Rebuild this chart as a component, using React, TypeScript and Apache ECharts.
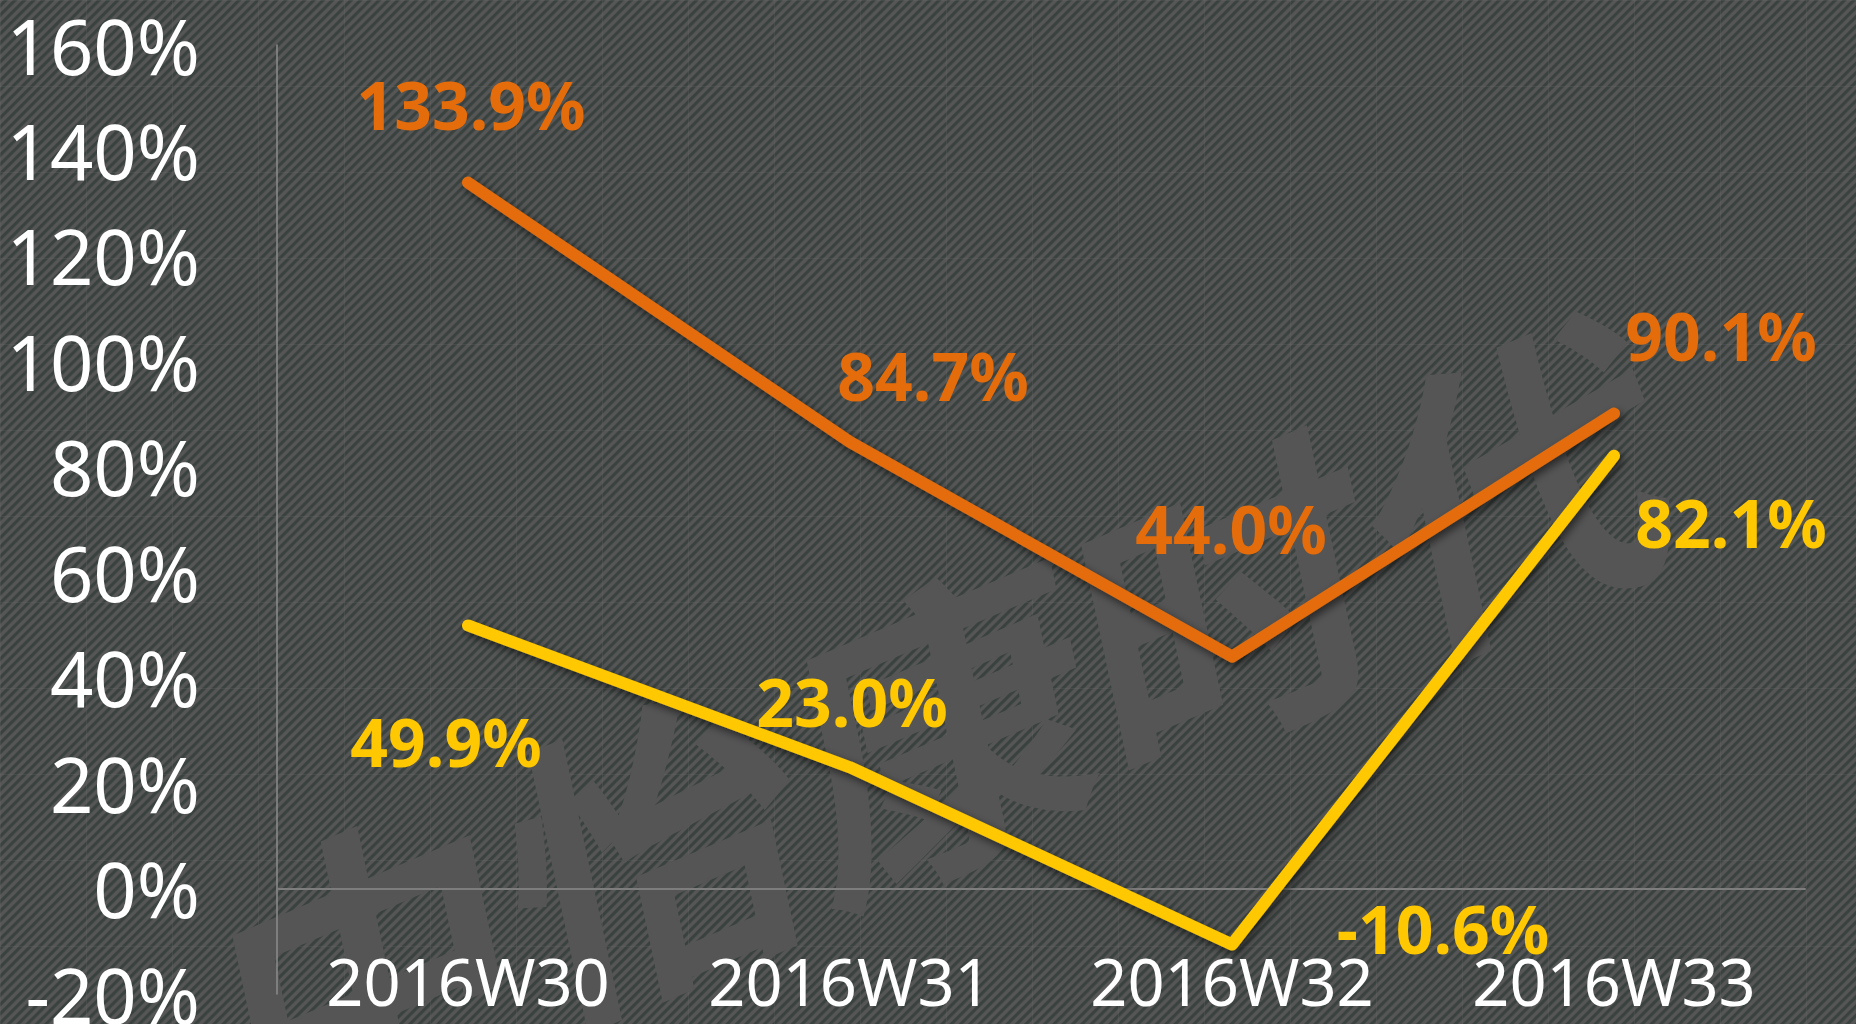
import React, { useEffect, useRef } from "react";
import * as echarts from "echarts";

const categories = ["2016W30", "2016W31", "2016W32", "2016W33"];
const orangeValues = [133.9, 84.7, 44.0, 90.1];
const yellowValues = [49.9, 23.0, -10.6, 82.1];
const yMin = -20;
const yMax = 160;
const yInterval = 20;
const watermarkText = "中怡康时代";

// label placement (layout only)
const orangeLabelOffsets = [[3, -79], [83, -67], [-1, -129], [107, -79]];
const yellowLabelOffsets = [[-22, 116], [2, -66], [211, -16], [117, 66]];

const ORANGE = "#E46C0A";
const YELLOW = "#FFC800";

function buildData(values: number[], offsets: number[][]) {
  return values.map((v, i) => ({ value: v, label: { offset: offsets[i] } }));
}

export default function App() {
  const ref = useRef<HTMLDivElement>(null);
  useEffect(() => {
    document.body.style.margin = "0";
    const chart = echarts.init(ref.current!, undefined, { renderer: "svg" });
    const labelCommon = {
      show: true,
      position: "inside",
      fontFamily: "Noto Sans",
      fontWeight: "bold",
      fontSize: 66,
      formatter: (p: any) => Number(p.value).toFixed(1) + "%",
    };
    const lineShadow = {
      shadowColor: "rgba(0,0,0,0.55)",
      shadowBlur: 8,
      shadowOffsetX: 3,
      shadowOffsetY: 4,
    };
    chart.setOption({
      animation: false,
      backgroundColor: "transparent",
      grid: {
        left: 277,
        right: 51,
        top: 45,
        bottom: 30,
        containLabel: false,
        outerBoundsMode: "none",
      },
      graphic: [
        {
          type: "text",
          x: 940,
          y: 714,
          rotation: (12 * Math.PI) / 180,
          skewY: 0.192,
          z: -10,
          silent: true,
          style: {
            text: watermarkText,
            fontFamily: "Noto Sans CJK SC",
            fontWeight: "bold",
            fontSize: 306,
            fill: "#555555",
            align: "center",
            verticalAlign: "middle",
          },
        },
      ],
      xAxis: {
        type: "category",
        data: categories,
        boundaryGap: true,
        z: 3,
        axisLine: { show: true, onZero: true, lineStyle: { color: "#7d7d7d", width: 2 } },
        axisTick: { show: false },
        splitLine: { show: false },
        axisLabel: {
          color: "#ffffff",
          fontFamily: "Noto Sans",
          fontSize: 65,
          margin: -46,
        },
      },
      yAxis: {
        type: "value",
        min: yMin,
        max: yMax,
        interval: yInterval,
        z: 3,
        axisLine: { show: true, lineStyle: { color: "#8c8c8c", width: 1.5 } },
        axisTick: { show: false },
        splitLine: { show: false },
        axisLabel: {
          color: "#ffffff",
          fontFamily: "Noto Sans",
          fontSize: 76,
          margin: 77,
          formatter: "{value}%",
        },
      },
      series: [
        {
          type: "line",
          data: buildData(orangeValues, orangeLabelOffsets),
          symbol: "circle",
          symbolSize: 1,
          itemStyle: { color: ORANGE },
          lineStyle: { color: ORANGE, width: 12, cap: "round", join: "round", ...lineShadow },
          label: { ...labelCommon, color: ORANGE },
          z: 5,
        },
        {
          type: "line",
          data: buildData(yellowValues, yellowLabelOffsets),
          symbol: "circle",
          symbolSize: 1,
          itemStyle: { color: YELLOW },
          lineStyle: { color: YELLOW, width: 12, cap: "round", join: "round", ...lineShadow },
          label: { ...labelCommon, color: YELLOW },
          z: 5,
        },
      ],
    });
    return () => chart.dispose();
  }, []);

  const bg =
    "linear-gradient(rgba(120,120,120,0.18) 1px, transparent 1px)," +
    "linear-gradient(90deg, rgba(120,120,120,0.18) 1px, transparent 1px)," +
    "repeating-linear-gradient(135deg, #565656 0px, #565656 2px, #39423f 3.3px, #39423f 5px, #565656 6.6px)";

  return (
    <div
      style={{
        position: "fixed",
        left: 0,
        top: 0,
        width: 1856,
        height: 1024,
        backgroundColor: "#474a49",
        backgroundImage: bg,
        backgroundSize: "86px 86px, 86px 86px, auto",
      }}
    >
      <div ref={ref} style={{ width: 1856, height: 1024 }} />
    </div>
  );
}
